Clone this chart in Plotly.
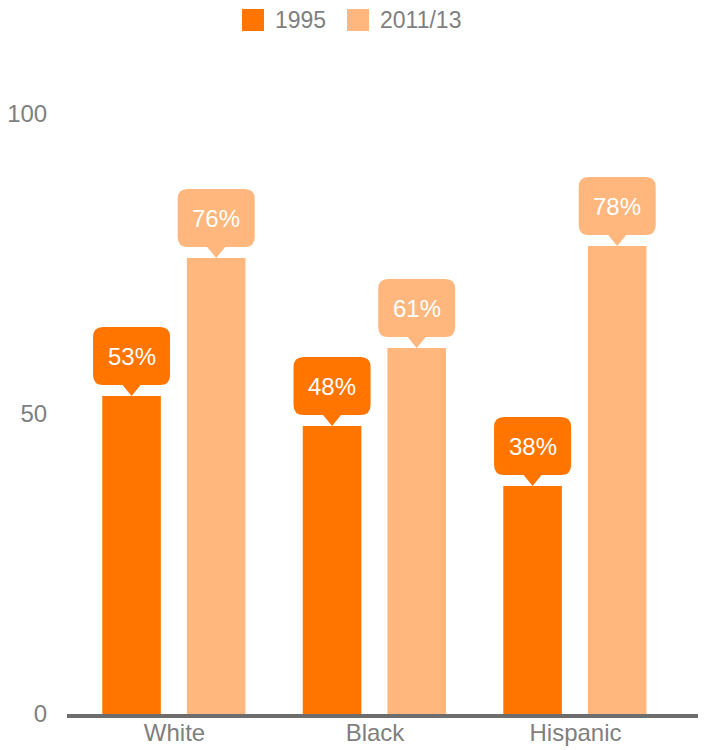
import plotly.graph_objects as go

# data
categories = ["White", "Black", "Hispanic"]
series_names = ["1995", "2011/13"]
v1995 = [53, 48, 38]
v2011 = [76, 61, 78]
colors = ["#FF7500", "#FFB77D"]

W, H = 704, 750
ML, MR, MT, MB = 67, 6, 54, 36
PW, PH = W - ML - MR, H - MT - MB

GRAY = "#7f7f7f"
FONT = "Arial, 'Liberation Sans', sans-serif"

cat_pos = list(range(len(categories)))
bar_w = 0.292
offsets = [-0.36, 0.062]


def px_x(p):
    return (p - ML) / PW


def px_y(p):
    return 1 + (MT - p) / PH


# rounded callout with a pointer, in pixels relative to the bar top
CALLOUT = (
    "M0,0 L9,11 H28.5 Q38.5,11 38.5,21 V59 Q38.5,69 28.5,69 "
    "H-28.5 Q-38.5,69 -38.5,59 V21 Q-38.5,11 -28.5,11 H-9 Z"
)

fig = go.Figure()
shapes = []
annotations = []

for name, vals, col, off in zip(series_names, [v1995, v2011], colors, offsets):
    fig.add_trace(
        go.Bar(
            x=cat_pos,
            y=vals,
            name=name,
            width=bar_w,
            offset=off,
            marker=dict(color=col, line=dict(width=0)),
            showlegend=False,
            hoverinfo="skip",
        )
    )
    for xp, v in zip(cat_pos, vals):
        xc = xp + off + bar_w / 2
        shapes.append(
            dict(
                type="path",
                xref="x",
                yref="y",
                xsizemode="pixel",
                ysizemode="pixel",
                xanchor=xc,
                yanchor=v,
                path=CALLOUT,
                fillcolor=col,
                line=dict(width=0),
            )
        )
        annotations.append(
            dict(
                x=xc,
                y=v,
                xref="x",
                yref="y",
                yshift=40,
                text="%d%%" % v,
                showarrow=False,
                font=dict(family=FONT, size=24, color="white"),
            )
        )

# legend drawn by hand so the swatches match the larger squares
legend_items = [(242, 273), (347, 378)]
for (sx, tx), name, col in zip(legend_items, series_names, colors):
    shapes.append(
        dict(
            type="rect",
            xref="paper",
            yref="paper",
            x0=px_x(sx),
            x1=px_x(sx + 22),
            y0=px_y(31),
            y1=px_y(9),
            fillcolor=col,
            line=dict(width=0),
        )
    )
    annotations.append(
        dict(
            x=px_x(tx),
            y=px_y(20),
            xref="paper",
            yref="paper",
            xanchor="left",
            yanchor="middle",
            text=name,
            showarrow=False,
            font=dict(family=FONT, size=23, color=GRAY),
        )
    )

fig.update_layout(
    width=W,
    height=H,
    margin=dict(l=ML, r=MR, t=MT, b=MB),
    barmode="overlay",
    plot_bgcolor="white",
    paper_bgcolor="white",
    font=dict(family=FONT, color=GRAY),
    shapes=shapes,
    annotations=annotations,
    showlegend=False,
    xaxis=dict(
        range=[-0.536, 2.611],
        tickvals=cat_pos,
        ticktext=categories,
        showline=True,
        linecolor="#6d6d6d",
        linewidth=4,
        showgrid=False,
        zeroline=False,
        ticks="",
        ticklabelstandoff=-6,
        automargin=False,
        tickfont=dict(size=24, color=GRAY),
    ),
    yaxis=dict(
        range=[0, 110],
        tickvals=[0, 50, 100],
        showgrid=False,
        zeroline=False,
        showline=False,
        ticks="outside",
        ticklen=14,
        tickcolor="rgba(0,0,0,0)",
        automargin=False,
        tickfont=dict(size=24, color=GRAY),
    ),
)

# drop the page's default body margin so the chart sits at the window's corner
fig.write_html(
    "out.html",
    config={"displayModeBar": False},
    post_script="document.body.style.margin = '0';",
)
